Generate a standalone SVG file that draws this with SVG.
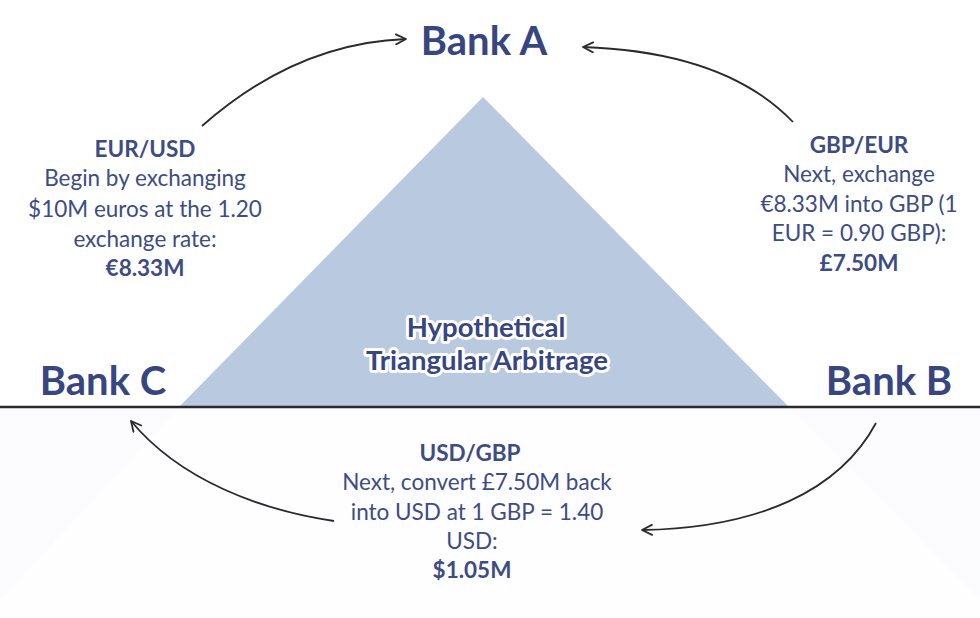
<svg xmlns="http://www.w3.org/2000/svg" width="980" height="618" viewBox="0 0 980 618">
<defs>
<marker id="arr" viewBox="0 0 12 12" refX="11" refY="6" markerWidth="12" markerHeight="12" markerUnits="userSpaceOnUse" orient="auto">
<path d="M1,1 L11,6 L1,11" fill="none" stroke="#2a2a2e" stroke-width="1.8" stroke-linecap="round" stroke-linejoin="round"/>
</marker>
<style>
.bank{font-family:"Lato","Liberation Sans",sans-serif;font-weight:700;font-size:40px;fill:#37467f;text-anchor:middle}
.t{font-family:"Lato","Liberation Sans",sans-serif;font-size:22.5px;fill:#3d4c82;text-anchor:middle}
.b{font-weight:700}
.halo{font-family:"Lato","Liberation Sans",sans-serif;font-weight:700;font-size:27.5px;fill:#37467f;text-anchor:middle;stroke:#ffffff;stroke-width:6;stroke-linejoin:round;paint-order:stroke}
.conn{fill:none;stroke:#2a2a2e;stroke-width:1.8;marker-end:url(#arr)}
</style>
</defs>
<rect x="0" y="0" width="980" height="618" fill="#ffffff"/>
<rect x="0" y="407" width="980" height="211" fill="#fefdff"/>
<polygon points="0,407 180,407 0,600" fill="#fcfbfe"/>
<polygon points="980,407 790,407 980,600" fill="#fcfbfe"/>
<g id="triangle">
<polygon points="483,97 179,407 789,407" fill="#b9c9df"/>
<text class="halo" x="486" y="337">Hypothetical</text>
<text class="halo" x="487" y="370">Triangular Arbitrage</text>
</g>
<line x1="0" y1="407" x2="980" y2="407" stroke="#2a2a2e" stroke-width="2.5"/>
<g id="bankA"><text class="bank" x="484" y="55">Bank A</text></g>
<g id="bankB"><text class="bank" x="889" y="395">Bank B</text></g>
<g id="bankC"><text class="bank" x="103" y="395">Bank C</text></g>
<g id="eurusd">
<text class="t b" x="145" y="157">EUR/USD</text>
<text class="t" x="145" y="186">Begin by exchanging</text>
<text class="t" x="145" y="217">$10M euros at the 1.20</text>
<text class="t" x="145" y="247">exchange rate:</text>
<text class="t b" x="145" y="276">€8.33M</text>
</g>
<g id="gbpeur">
<text class="t b" x="859" y="153">GBP/EUR</text>
<text class="t" x="859" y="182">Next, exchange</text>
<text class="t" x="859" y="212">€8.33M into GBP (1</text>
<text class="t" x="859" y="241">EUR = 0.90 GBP):</text>
<text class="t b" x="859" y="271">£7.50M</text>
</g>
<g id="usdgbp">
<text class="t b" x="470" y="461">USD/GBP</text>
<text class="t" x="477" y="490">Next, convert £7.50M back</text>
<text class="t" x="477" y="520">into USD at 1 GBP = 1.40</text>
<text class="t" x="472" y="549">USD:</text>
<text class="t b" x="472" y="578">$1.05M</text>
</g>
<g id="connectors">
<path class="conn" d="M202,126 Q296,43 406,39"/>
<path class="conn" d="M793,122 C745,72 670,50 583,47"/>
<path class="conn" d="M334,521 C260,510 180,480 131,421"/>
<path class="conn" d="M876,423 C840,490 760,528 642,530"/>
</g>
</svg>
